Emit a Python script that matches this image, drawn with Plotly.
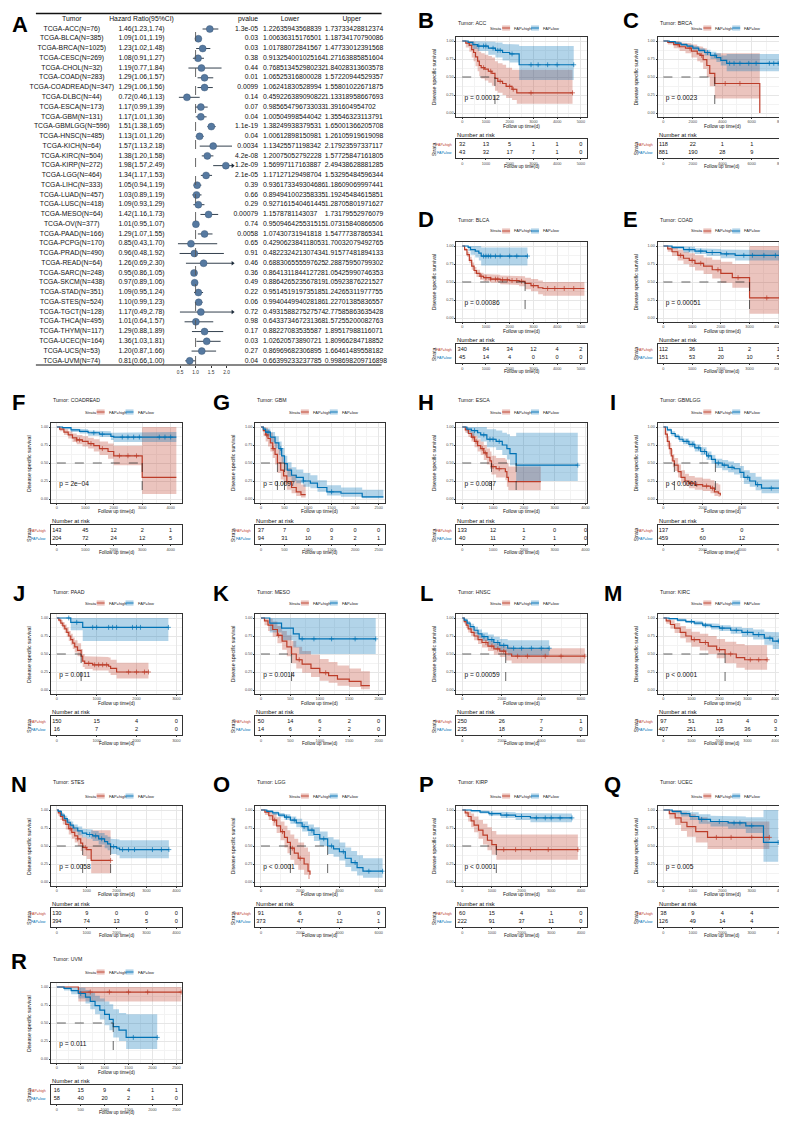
import plotly.graph_objects as go

W, H = 787, 1125
FONT = "Liberation Sans, Arial, sans-serif"
RED, BLUE = "#BC3C29", "#0072B5"
RED_F, BLUE_F = "rgba(188,60,41,0.30)", "rgba(0,114,181,0.30)"

# ---------------- Panel A : forest table data ----------------
tumors = ["ACC", "BLCA", "BRCA", "CESC", "CHOL", "COAD", "COADREAD", "DLBC", "ESCA", "GBM",
          "GBMLGG", "HNSC", "KICH", "KIRC", "KIRP", "LGG", "LIHC", "LUAD", "LUSC", "MESO",
          "OV", "PAAD", "PCPG", "PRAD", "READ", "SARC", "SKCM", "STAD", "STES", "TGCT",
          "THCA", "THYM", "UCEC", "UCS", "UVM"]
n_cases = [76, 385, 1025, 269, 32, 283, 347, 44, 173, 131, 596, 485, 64, 504, 272, 464, 333, 457,
           418, 64, 377, 166, 170, 490, 64, 248, 438, 351, 524, 128, 495, 117, 164, 53, 74]
hr = [1.46, 1.09, 1.23, 1.08, 1.19, 1.29, 1.29, 0.72, 1.17, 1.17, 1.51, 1.13, 1.57, 1.38, 1.98,
      1.34, 1.05, 1.03, 1.09, 1.42, 1.01, 1.29, 0.85, 0.96, 1.26, 0.95, 0.97, 1.09, 1.10, 1.17,
      1.01, 1.29, 1.36, 1.20, 0.81]
hr_text = ["1.46(1.23,1.74)", "1.09(1.01,1.19)", "1.23(1.02,1.48)", "1.08(0.91,1.27)", "1.19(0.77,1.84)",
           "1.29(1.06,1.57)", "1.29(1.06,1.56)", "0.72(0.46,1.13)", "1.17(0.99,1.39)", "1.17(1.01,1.36)",
           "1.51(1.38,1.65)", "1.13(1.01,1.26)", "1.57(1.13,2.18)", "1.38(1.20,1.58)", "1.98(1.57,2.49)",
           "1.34(1.17,1.53)", "1.05(0.94,1.19)", "1.03(0.89,1.19)", "1.09(0.93,1.29)", "1.42(1.16,1.73)",
           "1.01(0.95,1.07)", "1.29(1.07,1.55)", "0.85(0.43,1.70)", "0.96(0.48,1.92)", "1.26(0.69,2.30)",
           "0.95(0.86,1.05)", "0.97(0.89,1.06)", "1.09(0.95,1.24)", "1.10(0.99,1.23)", "1.17(0.49,2.78)",
           "1.01(0.64,1.57)", "1.29(0.88,1.89)", "1.36(1.03,1.81)", "1.20(0.87,1.66)", "0.81(0.66,1.00)"]
pvalue = ["1.3e-05", "0.03", "0.03", "0.38", "0.44", "0.01", "0.0099", "0.14", "0.07", "0.04",
          "1.1e-19", "0.04", "0.0034", "4.2e-08", "1.2e-09", "2.1e-05", "0.39", "0.66", "0.29", "0.00079",
          "0.74", "0.0058", "0.65", "0.91", "0.46", "0.36", "0.49", "0.22", "0.06", "0.72",
          "0.98", "0.17", "0.03", "0.27", "0.04"]
lower = ["1.22635943568839", "1.00636315176501", "1.01788072841567", "0.913254001025164", "0.768513452980232",
         "1.06525316800028", "1.06241830528994", "0.459226389090822", "0.985654796733033", "1.00504998544042",
         "1.38249938379531", "1.00612898150981", "1.13425571198342", "1.20075052792228", "1.56997117163887",
         "1.17127129498704", "0.936173349304686", "0.894941002358335", "0.927161540461445", "1.1578781143037",
         "0.950946425531515", "1.07430731941818", "0.429062384118053", "0.482232421307434", "0.688306555597625",
         "0.864131184412728", "0.886426523567819", "0.951451919735185", "0.994044994028186", "0.493158827527574",
         "0.643373467231368", "0.88227083535587", "1.02620573890721", "0.86969682306895", "0.66399233237785"]
upper = ["1.73733428812374", "1.18734170790086", "1.47733012391568", "1.27163885851604", "1.84028313603578",
         "1.57220944529357", "1.55801022671875", "1.13318958667693", "1.391604954702", "1.35546323113791",
         "1.65001366205708", "1.26105919619098", "2.17923597337117", "1.57725847161805", "2.49438628881285",
         "1.53295484596344", "1.18609069997441", "1.19245484615851", "1.28705801971627", "1.73179552976079",
         "1.07315840866506", "1.54777387865341", "1.70032079492765", "1.91577481894133", "2.28875950799302",
         "1.05425990746353", "1.05923876221527", "1.24265311977755", "1.22701385836557", "2.77585863635428",
         "1.57255200082763", "1.89517988116071", "1.80966284718852", "1.66461489558182", "0.998698209716898"]
forest_ticks = [0.5, 1.0, 1.5, 2.0]
table_headers = ["Tumor", "Hazard Ratio(95%CI)", "pvalue", "Lower", "Upper"]

# ---------------- KM data: (time, survival, lower, upper) ----------------
ACC_high = [(0,1,1,1),(150,.97,.91,1),(300,.94,.85,1),(400,.88,.77,1),(480,.84,.72,.98),(560,.78,.65,.94),
            (650,.72,.58,.9),(720,.66,.51,.85),(800,.63,.48,.83),(950,.61,.45,.81),(1100,.58,.42,.79),
            (1250,.55,.38,.77),(1380,.48,.31,.72),(1500,.44,.28,.69),(1700,.41,.25,.67),(1850,.37,.21,.63),
            (2100,.33,.18,.6),(2300,.28,.13,.6),(4650,.28,.13,.6)]
ACC_low = [(0,1,1,1),(250,.98,.93,1),(450,.95,.89,1),(650,.93,.86,1),(1100,.9,.81,.99),(1400,.87,.77,.98),
           (1700,.84,.73,.96),(2000,.82,.7,.95),(2400,.67,.46,.93),(4700,.67,.46,.93)]
ACC_high_cens = [900, 1200, 1600, 2000, 2150, 2900, 4650]
ACC_low_cens = [700, 900, 1000, 1300, 1500, 1600, 2100, 2900, 3200, 3600, 4000, 4700]

BRCA_high = [(0,1,1,1),(300,.98,.95,1),(700,.95,.9,1),(1100,.92,.86,.98),(1500,.9,.83,.97),(1900,.86,.77,.95),
             (2300,.82,.72,.93),(2500,.8,.7,.92),(2700,.74,.61,.9),(2950,.66,.5,.86),(3150,.55,.37,.8),
             (3490,.41,.2,.83),(6550,0,0,0)]
BRCA_low = [(0,1,1,1),(400,.99,.98,1),(800,.97,.96,.99),(1200,.95,.93,.97),(1600,.93,.91,.95),(2000,.9,.87,.93),
            (2400,.87,.84,.9),(2800,.84,.8,.88),(3200,.8,.75,.85),(3600,.77,.71,.83),(3900,.73,.66,.8),
            (4300,.69,.58,.82),(8300,.69,.58,.82)]
BRCA_high_cens = [1000, 1800, 2600, 4200, 5200]
BRCA_low_cens = [3000, 3500, 4500, 4800, 5200, 5800, 6300, 7200, 7500, 7800, 8100]

BLCA_high = [(0,1,1,1),(100,.95,.93,.97),(200,.88,.85,.92),(300,.8,.76,.85),(400,.72,.67,.77),(500,.66,.61,.71),
             (600,.62,.57,.67),(750,.58,.53,.63),(900,.56,.51,.61),(1200,.54,.49,.6),(1600,.53,.47,.59),
             (2000,.52,.46,.58),(2400,.51,.44,.58),(2650,.48,.4,.56),(2900,.45,.37,.54),(3200,.42,.33,.52),
             (3400,.41,.31,.5),(5150,.41,.31,.5)]
BLCA_low = [(0,1,1,1),(250,.98,.93,1),(350,.95,.88,1),(550,.93,.84,1),(700,.9,.8,1),(800,.86,.73,.98),
            (2750,.86,.73,.98)]
BLCA_high_cens = [800, 1000, 1200, 1400, 1500, 1700, 1900, 2100, 2300, 2500, 3000, 3600, 3900, 4300, 4700]
BLCA_low_cens = [900, 1000, 1100, 1200, 1400, 1600, 2000, 2300, 2750]

COAD_high = [(0,1,1,1),(150,.96,.92,1),(300,.92,.86,.98),(500,.87,.8,.95),(700,.83,.75,.92),(900,.8,.71,.9),
             (1100,.76,.66,.87),(1400,.72,.61,.84),(1700,.67,.55,.81),(2000,.62,.49,.78),(2400,.56,.42,.75),
             (3000,.28,.06,1),(4200,.28,.06,1)]
COAD_low = [(0,1,1,1),(300,.98,.96,1),(700,.95,.91,.99),(1100,.93,.89,.97),(1500,.91,.86,.96),(2000,.89,.83,.95),
            (2500,.87,.8,.94),(4200,.87,.8,.94)]
COAD_high_cens = [600, 1000, 1300, 1900, 2600, 3600]
COAD_low_cens = [900, 1300, 1700, 2200, 2800, 3100, 3500, 3900, 4200]

COADREAD_high = [(0,1,1,1),(100,.97,.94,1),(250,.93,.89,.97),(400,.89,.84,.94),(550,.85,.79,.91),(700,.82,.76,.89),
                 (900,.8,.73,.87),(1100,.77,.7,.85),(1300,.74,.66,.83),(1500,.7,.61,.8),(1800,.66,.56,.77),
                 (2000,.6,.47,.74),(3000,.3,.07,1),(4200,.3,.07,1)]
COADREAD_low = [(0,1,1,1),(200,.99,.97,1),(500,.96,.93,.98),(800,.94,.91,.97),(1100,.92,.88,.95),(1500,.9,.86,.94),
                (1900,.87,.82,.92),(2000,.86,.79,.93),(4200,.86,.79,.93)]
COADREAD_high_cens = [700, 800, 1200, 1600, 2200, 2500, 2800]
COADREAD_low_cens = [1300, 1600, 2300, 2500, 2700, 2900, 3600, 3800, 4000]

GBM_high = [(0,1,1,1),(50,.95,.88,1),(100,.89,.8,.99),(150,.84,.73,.96),(200,.78,.66,.92),(250,.7,.57,.86),
            (300,.62,.48,.79),(350,.5,.36,.69),(420,.4,.27,.59),(480,.32,.2,.51),(550,.24,.13,.43),
            (650,.16,.08,.34),(750,.1,.04,.26),(850,.06,.02,.2),(950,.06,.02,.2)]
GBM_low = [(0,1,1,1),(50,.97,.94,1),(100,.93,.88,.98),(200,.86,.79,.93),(300,.78,.7,.87),(380,.7,.61,.8),
           (440,.6,.51,.71),(500,.49,.4,.6),(560,.4,.31,.51),(650,.33,.25,.44),(750,.3,.22,.41),(900,.25,.17,.36),
           (1050,.22,.15,.33),(1200,.16,.1,.26),(1400,.1,.05,.19),(1700,.08,.03,.16),(2150,.03,.01,.13),
           (2600,.03,.01,.13)]
GBM_high_cens = [120, 260]
GBM_low_cens = [150, 420, 900, 1500]

ESCA_high = [(0,1,1,1),(100,.96,.92,1),(200,.91,.86,.97),(300,.86,.8,.93),(400,.8,.72,.88),(500,.74,.66,.83),
             (600,.7,.61,.8),(700,.64,.54,.75),(800,.58,.48,.7),(900,.53,.42,.66),(950,.45,.34,.6),
             (1100,.42,.3,.57),(1400,.38,.26,.55),(1450,.3,.17,.5),(1500,.24,.12,.45),(2550,.24,.12,.45)]
ESCA_low = [(0,1,1,1),(150,.97,.92,1),(300,.95,.88,1),(500,.92,.84,1),(600,.89,.8,1),(800,.83,.72,.97),
            (1100,.8,.68,.95),(1300,.75,.61,.92),(1450,.7,.55,.9),(1550,.63,.47,.87),(1750,.47,.25,.92),
            (3750,.47,.25,.92)]
ESCA_high_cens = [350, 450, 650, 750, 1000, 1200]
ESCA_low_cens = [400, 700, 900, 1000, 1200, 3750]

GBMLGG_high = [(0,1,1,1),(100,.9,.85,.95),(200,.8,.73,.87),(300,.7,.62,.78),(400,.6,.52,.69),(480,.53,.44,.62),
               (560,.47,.39,.57),(750,.38,.3,.48),(900,.3,.22,.4),(1100,.25,.18,.35),(1300,.22,.15,.32),
               (1600,.2,.13,.3),(2000,.18,.11,.28),(2400,.15,.08,.26),(2600,.1,.04,.22),(2800,.08,.03,.2),
               (2900,.05,.01,.18)]
GBMLGG_low = [(0,1,1,1),(200,.96,.94,.98),(400,.91,.88,.94),(600,.87,.84,.9),(800,.83,.79,.87),(1000,.8,.76,.84),
              (1300,.76,.72,.81),(1600,.71,.66,.76),(1900,.66,.61,.72),(2200,.6,.54,.66),(2450,.55,.49,.61),
              (2650,.5,.43,.56),(3000,.47,.4,.54),(3300,.44,.37,.52),(3600,.42,.34,.5),(3900,.37,.29,.46),
              (4100,.3,.21,.4),(4400,.25,.17,.36),(4700,.2,.12,.31),(5000,.15,.08,.27),(6100,.15,.08,.27)]
GBMLGG_high_cens = [1400, 1700, 2200, 2500]
GBMLGG_low_cens = [1200, 1500, 1800, 2100, 2300, 2800, 3100, 3500, 4300, 4800, 5500, 6100]

PAAD_high = [(0,1,1,1),(50,.97,.94,1),(100,.93,.89,.97),(150,.89,.84,.94),(200,.85,.79,.91),(250,.8,.74,.87),
             (300,.75,.68,.82),(350,.7,.63,.78),(400,.65,.57,.73),(450,.6,.52,.69),(520,.55,.47,.65),
             (610,.47,.39,.57),(650,.4,.32,.5),(700,.37,.29,.47),(900,.35,.27,.46),(1300,.33,.24,.45),
             (1350,.3,.21,.42),(1500,.25,.16,.38),(2300,.25,.16,.38)]
PAAD_low = [(0,1,1,1),(350,.94,.83,1),(650,.87,.68,1),(2800,.87,.68,1)]
PAAD_high_cens = [800, 950, 1050, 1150, 1250, 1800, 2000, 2200, 2300]
PAAD_low_cens = [300, 500, 900, 1000, 1300, 1400, 1500, 1900, 2000, 2100, 2800]

MESO_high = [(0,1,1,1),(60,.96,.9,1),(120,.9,.82,.99),(200,.84,.74,.95),(280,.76,.65,.89),(360,.68,.56,.82),
             (440,.6,.47,.76),(520,.5,.37,.68),(600,.42,.3,.6),(700,.36,.24,.54),(850,.3,.18,.49),
             (1000,.24,.13,.43),(1150,.2,.1,.39),(1300,.15,.06,.34),(1500,.12,.04,.3),(1700,.06,.01,.26),
             (1850,.06,.01,.26)]
MESO_low = [(0,1,1,1),(150,.93,.8,1),(350,.86,.69,1),(550,.78,.59,1),(650,.71,.5,1),(1950,.71,.5,1)]
MESO_high_cens = [300, 650, 1100]
MESO_low_cens = [700, 900, 1200, 1600, 1950]

HNSC_high = [(0,1,1,1),(100,.95,.92,.98),(200,.9,.86,.94),(300,.85,.8,.89),(450,.8,.75,.85),(600,.75,.69,.81),
             (800,.7,.64,.76),(1000,.66,.59,.72),(1300,.61,.54,.68),(1600,.57,.49,.65),(1900,.54,.46,.62),
             (2200,.5,.41,.6),(2500,.47,.37,.58),(6200,.47,.37,.58)]
HNSC_low = [(0,1,1,1),(100,.97,.95,.99),(250,.93,.9,.96),(400,.88,.84,.92),(600,.83,.78,.88),(800,.78,.72,.84),
            (1000,.74,.68,.8),(1300,.7,.63,.77),(1600,.66,.58,.74),(1900,.62,.53,.71),(2300,.58,.48,.69),
            (4400,.58,.48,.69)]
HNSC_high_cens = [1200, 1500, 1800, 2100, 2800, 3300, 4200, 5000, 6200]
HNSC_low_cens = [1100, 1500, 1800, 2100, 2600, 3000, 3500, 4000, 4400]

KIRC_high = [(0,1,1,1),(100,.96,.92,1),(250,.91,.85,.97),(400,.86,.79,.93),(600,.8,.72,.89),(800,.75,.66,.85),
             (1000,.7,.6,.81),(1300,.66,.55,.78),(1600,.61,.5,.75),(1900,.56,.44,.71),(2200,.5,.37,.67),
             (2600,.45,.31,.64),(2900,.42,.28,.62),(3700,.42,.28,.62)]
KIRC_low = [(0,1,1,1),(200,.99,.98,1),(500,.97,.95,.99),(800,.95,.93,.97),(1100,.93,.9,.96),(1400,.9,.87,.93),
            (1700,.88,.84,.92),(2000,.86,.82,.9),(2400,.83,.78,.88),(2800,.8,.74,.86),(3200,.77,.7,.84),
            (3600,.72,.63,.81),(3900,.68,.57,.8),(4300,.68,.57,.8)]
KIRC_high_cens = [1100, 1500, 2000, 2400, 3100, 3400, 3700]
KIRC_low_cens = [1000, 1500, 2100, 2600, 3000, 3400, 3800, 4100, 4300]

STES_high = [(0,1,1,1),(50,.96,.92,1),(120,.91,.86,.97),(200,.86,.8,.92),(300,.8,.73,.87),(400,.74,.66,.82),
             (500,.69,.6,.78),(600,.64,.55,.74),(700,.6,.5,.71),(800,.54,.43,.66),(865,.48,.36,.62),
             (1000,.45,.32,.6),(1150,.3,.12,.72),(1800,.3,.12,.72)]
STES_low = [(0,1,1,1),(50,.98,.96,1),(150,.93,.9,.96),(250,.88,.84,.92),(350,.83,.79,.87),(450,.79,.74,.84),
            (550,.75,.7,.8),(700,.71,.65,.77),(850,.68,.62,.74),(1000,.66,.6,.73),(1200,.64,.57,.71),
            (1400,.6,.52,.68),(1600,.56,.47,.65),(1700,.53,.44,.63),(1800,.49,.39,.6),(2000,.47,.37,.59),
            (2100,.45,.33,.58),(3750,.45,.33,.58)]
STES_high_cens = [450, 700, 950, 1800]
STES_low_cens = [1100, 1300, 1500, 1900, 2200, 2400, 2600, 3200, 3500, 3750]

LGG_high = [(0,1,1,1),(200,.97,.93,1),(400,.92,.86,.98),(600,.86,.78,.95),(800,.78,.68,.9),(1000,.7,.58,.84),
            (1200,.62,.48,.78),(1350,.55,.4,.72),(1500,.47,.31,.66),(1700,.4,.24,.6),(1900,.33,.17,.55),
            (2200,.25,.1,.48),(2400,.15,.04,.42),(2500,.1,.02,.36)]
LGG_low = [(0,1,1,1),(300,.98,.96,1),(600,.96,.93,.98),(900,.93,.9,.96),(1200,.9,.86,.94),(1500,.86,.81,.91),
           (1800,.82,.76,.88),(2100,.77,.7,.84),(2400,.72,.64,.8),(2700,.66,.57,.76),(3000,.6,.5,.7),
           (3400,.5,.39,.62),(3700,.46,.35,.59),(4000,.42,.3,.55),(4300,.33,.21,.48),(4600,.27,.15,.43),
           (4900,.2,.09,.37),(5200,.15,.06,.33),(6200,.15,.06,.33)]
LGG_high_cens = [700, 1100, 1600, 2000]
LGG_low_cens = [1300, 1700, 2200, 2600, 3200, 3600, 4200, 4800, 5500, 6200]

KIRP_high = [(0,1,1,1),(100,.96,.91,1),(200,.91,.84,.98),(300,.85,.76,.95),(400,.79,.69,.91),(550,.72,.6,.86),
             (700,.65,.52,.81),(850,.58,.44,.76),(1000,.52,.38,.71),(1150,.45,.31,.66),(3900,.45,.31,.66)]
KIRP_low = [(0,1,1,1),(300,.99,.97,1),(600,.97,.95,.99),(900,.95,.92,.98),(1300,.93,.89,.97),(1800,.91,.86,.96),
            (2300,.89,.83,.95),(3700,.89,.83,.95)]
KIRP_high_cens = [1400, 1800, 2300, 2900, 3900]
KIRP_low_cens = [1000, 1500, 2000, 2500, 2800, 3000, 3300, 3700]

UCEC_high = [(0,1,1,1),(200,.95,.88,1),(400,.89,.79,1),(600,.83,.71,.97),(800,.77,.63,.94),(1100,.7,.55,.9),
             (1500,.62,.46,.84),(3600,.62,.46,.84)]
UCEC_low = [(0,1,1,1),(300,.98,.95,1),(600,.95,.91,.99),(900,.91,.86,.97),(1200,.87,.81,.94),(1600,.84,.77,.92),
            (2200,.82,.74,.91),(2800,.78,.68,.9),(3400,.55,.28,1),(3900,.55,.28,1)]
UCEC_high_cens = [1800, 2300, 3000, 3600]
UCEC_low_cens = [1300, 1900, 2400, 2600, 3000, 3900]

UVM_high = [(0,1,1,1),(450,.93,.8,1),(2600,.93,.8,1)]
UVM_low = [(0,1,1,1),(150,.98,.95,1),(300,.95,.9,1),(450,.91,.84,.99),(600,.86,.77,.96),(700,.8,.69,.92),
           (800,.74,.62,.88),(900,.68,.55,.84),(1000,.62,.47,.8),(1100,.55,.4,.76),(1180,.45,.3,.69),
           (1300,.4,.25,.64),(1450,.3,.14,.62),(2100,.3,.14,.62)]
UVM_high_cens = [700, 1100, 1500, 1900, 2600]
UVM_low_cens = [500, 1600, 2100]

# number at risk (FAP=high, FAP=low) at each x tick
risk_ACC = ([32, 13, 5, 1, 1, 0], [43, 32, 17, 7, 1, 0])
risk_BRCA = ([118, 22, 1, 1, 0], [881, 190, 28, 9, 3])
risk_BLCA = ([340, 84, 34, 12, 4, 2], [45, 14, 4, 0, 0, 0])
risk_COAD = ([112, 36, 11, 2, 1], [151, 53, 20, 10, 5])
risk_COADREAD = ([143, 45, 12, 2, 1], [204, 72, 24, 12, 5])
risk_GBM = ([37, 7, 0, 0, 0, 0], [94, 31, 10, 3, 2, 1])
risk_ESCA = ([133, 12, 1, 0, 0], [40, 11, 2, 1, 0])
risk_GBMLGG = ([137, 5, 0, 0], [459, 60, 12, 1])
risk_PAAD = ([150, 15, 4, 0], [16, 7, 2, 0])
risk_MESO = ([50, 14, 6, 2, 0], [14, 6, 2, 2, 0])
risk_HNSC = ([250, 26, 7, 1], [235, 18, 2, 0])
risk_KIRC = ([97, 51, 13, 4, 0], [407, 251, 105, 36, 3])
risk_STES = ([130, 9, 0, 0, 0], [394, 74, 13, 5, 0])
risk_LGG = ([91, 6, 0, 0], [373, 47, 12, 1])
risk_KIRP = ([60, 15, 4, 1, 0], [222, 91, 37, 11, 0])
risk_UCEC = ([38, 9, 4, 4, 0], [126, 49, 14, 4, 0])
risk_UVM = ([16, 15, 9, 4, 1, 1], [58, 40, 20, 2, 1, 0])

# median survival times drawn with dashed lines
med_ACC = [1380]
med_BRCA = [3490]
med_BLCA = [2650]
med_COAD = [3000]
med_COADREAD = [3000]
med_GBM = [350, 500]
med_ESCA = [950, 1750]
med_GBMLGG = [560, 2650]
med_PAAD = [610]
med_MESO = [520]
med_HNSC = [2200]
med_KIRC = [2200]
med_STES = [865, 1800]
med_LGG = [1500, 3400]
med_KIRP = [1150]
med_UCEC = []
med_UVM = [1180]

# ---------------- layout helpers ----------------
def px(x):
    return x / W


def py(y):
    return 1 - y / H


fig = go.Figure()
annotations = []
shapes = []
layout_axes = {}

# ---------------- Panel A ----------------
ROW0, ROWH = 21.0, 9.76
y_top, y_bot = 3.0, 357.0
fx0, fx1 = 169.7, 225.5
frange = [0.4, 2.2]
n_rows = len(tumors)
rows = list(range(n_rows))

layout_axes["xaxis"] = dict(domain=[px(fx0), px(fx1)], range=frange, anchor="y",
                            tickmode="array", tickvals=forest_ticks,
                            ticktext=["%.1f" % v for v in forest_ticks],
                            tickfont=dict(family=FONT, size=4.8, color="#333"), ticks="outside", ticklen=2,
                            tickwidth=0.6, tickcolor="#333", showgrid=False, zeroline=False,
                            showline=False)
layout_axes["yaxis"] = dict(domain=[py(y_bot), py(y_top)],
                            range=[(y_bot - ROW0) / ROWH, (y_top - ROW0) / ROWH],
                            visible=False, anchor="x")
layout_axes["xaxis2"] = dict(domain=[0, 1], range=[0, W], visible=False, anchor="y")

lo_f = [float(v) for v in lower]
hi_f = [float(v) for v in upper]
for i in rows:
    a = max(lo_f[i], frange[0])
    b = min(hi_f[i], frange[1])
    fig.add_trace(go.Scatter(x=[a, b], y=[i, i], mode="lines", line=dict(color="#1d2b3a", width=0.9),
                             xaxis="x", yaxis="y", hoverinfo="skip", showlegend=False, cliponaxis=False))
    if hi_f[i] > frange[1]:
        fig.add_trace(go.Scatter(x=[frange[1]], y=[i], mode="markers",
                                 marker=dict(symbol="triangle-right", size=4, color="#1d2b3a"),
                                 xaxis="x", yaxis="y", hoverinfo="skip", showlegend=False, cliponaxis=False))
fig.add_trace(go.Scatter(x=hr, y=rows, mode="markers",
                         marker=dict(symbol="circle", size=7, color="#5679a0",
                                     line=dict(width=0.4, color="#34506e")),
                         xaxis="x", yaxis="y", hoverinfo="skip", showlegend=False, cliponaxis=False))

tf = dict(family=FONT, size=6.8, color="#111")
col_specs = [
    ([f"TCGA-{t}(N={n})" for t, n in zip(tumors, n_cases)], 64, "middle center"),
    (hr_text, 134, "middle center"),
    (pvalue, 251, "middle left"),
    (lower, 256, "middle right"),
    (upper, 318, "middle right"),
]
for texts, xc, pos in col_specs:
    fig.add_trace(go.Scatter(x=[xc] * n_rows, y=rows, text=texts, mode="text", textposition=pos,
                             textfont=tf, xaxis="x2", yaxis="y", hoverinfo="skip", showlegend=False,
                             cliponaxis=False))
header_x = [64, 134, 241, 283, 345]
fig.add_trace(go.Scatter(x=header_x, y=[-1] * len(header_x), text=table_headers, mode="text",
                         textposition="middle center", textfont=tf, xaxis="x2", yaxis="y",
                         hoverinfo="skip", showlegend=False, cliponaxis=False))
# table rules & reference line
shapes.append(dict(type="line", xref="paper", yref="paper", x0=px(28), x1=px(375), y0=py(5.5), y1=py(5.5),
                   line=dict(color="#111", width=1.3)))
shapes.append(dict(type="line", xref="paper", yref="paper", x0=px(28), x1=px(375), y0=py(y_bot), y1=py(y_bot),
                   line=dict(color="#111", width=1.1)))
shapes.append(dict(type="line", xref="x", yref="paper", x0=1, x1=1, y0=py(y_bot), y1=py(16),
                   line=dict(color="#555", width=0.9, dash="dash")))
annotations.append(dict(text="<b>A</b>", x=px(2), y=py(2), xref="paper", yref="paper", xanchor="left",
                        yanchor="top", showarrow=False, font=dict(family=FONT, size=22, color="#000")))

# ---------------- KM panels ----------------
cols = {1: (43, 175, 11), 2: (248, 378, 214), 3: (450, 581, 420), 4: (652, 782, 607)}
rowpos = {1: (33, 15, 20, 13), 2: (238, 212, 223, 211), 3: (419, 392, 404, 394),
          4: (610, 584, 595, 585), 5: (802, 774, 788, 776), 6: (979, 951, 964, 953)}

panels = [
    ("B", "ACC", ACC_high, ACC_low, ACC_high_cens, ACC_low_cens, 1000, 5000, risk_ACC, med_ACC, "p = 0.00012", 3, 1),
    ("C", "BRCA", BRCA_high, BRCA_low, BRCA_high_cens, BRCA_low_cens, 2000, 8000, risk_BRCA, med_BRCA, "p = 0.0023", 4, 1),
    ("D", "BLCA", BLCA_high, BLCA_low, BLCA_high_cens, BLCA_low_cens, 1000, 5000, risk_BLCA, med_BLCA, "p = 0.00086", 3, 2),
    ("E", "COAD", COAD_high, COAD_low, COAD_high_cens, COAD_low_cens, 1000, 4100, risk_COAD, med_COAD, "p = 0.00051", 4, 2),
    ("F", "COADREAD", COADREAD_high, COADREAD_low, COADREAD_high_cens, COADREAD_low_cens, 1000, 4200, risk_COADREAD, med_COADREAD, "p = 2e\u221204", 1, 3),
    ("G", "GBM", GBM_high, GBM_low, GBM_high_cens, GBM_low_cens, 500, 2500, risk_GBM, med_GBM, "p = 0.0097", 2, 3),
    ("H", "ESCA", ESCA_high, ESCA_low, ESCA_high_cens, ESCA_low_cens, 1000, 3850, risk_ESCA, med_ESCA, "p = 0.0087", 3, 3),
    ("I", "GBMLGG", GBMLGG_high, GBMLGG_low, GBMLGG_high_cens, GBMLGG_low_cens, 2000, 6000, risk_GBMLGG, med_GBMLGG, "p < 0.0001", 4, 3),
    ("J", "PAAD", PAAD_high, PAAD_low, PAAD_high_cens, PAAD_low_cens, 1000, 3000, risk_PAAD, med_PAAD, "p = 0.0011", 1, 4),
    ("K", "MESO", MESO_high, MESO_low, MESO_high_cens, MESO_low_cens, 500, 2000, risk_MESO, med_MESO, "p = 0.0014", 2, 4),
    ("L", "HNSC", HNSC_high, HNSC_low, HNSC_high_cens, HNSC_low_cens, 2000, 6000, risk_HNSC, med_HNSC, "p = 0.00059", 3, 4),
    ("M", "KIRC", KIRC_high, KIRC_low, KIRC_high_cens, KIRC_low_cens, 1000, 4200, risk_KIRC, med_KIRC, "p < 0.0001", 4, 4),
    ("N", "STES", STES_high, STES_low, STES_high_cens, STES_low_cens, 1000, 4000, risk_STES, med_STES, "p = 0.0058", 1, 5),
    ("O", "LGG", LGG_high, LGG_low, LGG_high_cens, LGG_low_cens, 2000, 6000, risk_LGG, med_LGG, "p < 0.0001", 2, 5),
    ("P", "KIRP", KIRP_high, KIRP_low, KIRP_high_cens, KIRP_low_cens, 1000, 4000, risk_KIRP, med_KIRP, "p < 0.0001", 3, 5),
    ("Q", "UCEC", UCEC_high, UCEC_low, UCEC_high_cens, UCEC_low_cens, 1000, 4000, risk_UCEC, med_UCEC, "p = 0.005", 4, 5),
    ("R", "UVM", UVM_high, UVM_low, UVM_high_cens, UVM_low_cens, 500, 2500, risk_UVM, med_UVM, "p = 0.011", 1, 6),
]


def step_xy(t, v):
    xs, ys = [], []
    for i in range(len(t)):
        if i > 0:
            xs.append(t[i]); ys.append(v[i - 1])
        xs.append(t[i]); ys.append(v[i])
    return xs, ys


def surv_at(curve, c):
    s = curve[0][1]
    for row in curve:
        if row[0] <= c:
            s = row[1]
        else:
            break
    return s


def ann(text, x, y, size, color="#000", xanchor="center", angle=0, bold=False):
    annotations.append(dict(text=("<b>%s</b>" % text) if bold else text, x=px(x), y=py(y),
                            xref="paper", yref="paper", showarrow=False, xanchor=xanchor,
                            yanchor="middle", textangle=angle,
                            font=dict(family=FONT, size=size, color=color)))


AX = dict(color="#333", width=0.5)
for k, (letter, name, hi, lo, hic, loc, step, D, risk, meds, ptxt, c, r) in enumerate(panels):
    L, R, lx = cols[c]
    if c == 4 and r <= 2:
        lx = 625
    Y1, ty, ly, lyy = rowpos[r]
    a, b = 3 + 2 * k, 4 + 2 * k
    xa, ya, xb, yb = "x%d" % a, "y%d" % a, "x%d" % b, "y%d" % b
    xr = [-0.05 * D, 1.05 * D]

    common = dict(showlegend=False, hoverinfo="skip", xaxis=xa, yaxis=ya)
    for curve, fc in ((hi, RED_F), (lo, BLUE_F)):
        t = [q[0] for q in curve]
        ux, uy = step_xy(t, [q[3] for q in curve])
        lx_, ly_ = step_xy(t, [q[2] for q in curve])
        fig.add_trace(go.Scatter(x=ux + lx_[::-1], y=uy + ly_[::-1], fill="toself", fillcolor=fc,
                                 mode="lines", line=dict(width=0), **common))
    for curve, cens, lc in ((hi, hic, RED), (lo, loc, BLUE)):
        fig.add_trace(go.Scatter(x=[q[0] for q in curve], y=[q[1] for q in curve], mode="lines",
                                 line=dict(color=lc, width=1.2, shape="hv"), **common))
        fig.add_trace(go.Scatter(x=cens, y=[surv_at(curve, v) for v in cens], mode="markers",
                                 marker=dict(symbol="cross-thin", size=3.5, line=dict(color=lc, width=0.7)),
                                 **common))
    if meds:
        fig.add_trace(go.Scatter(x=[0, max(meds)], y=[0.5, 0.5], mode="lines",
                                 line=dict(color="#222", width=0.7, dash="dash"), **common))
        for m in meds:
            fig.add_trace(go.Scatter(x=[m, m], y=[0.5, 0], mode="lines",
                                     line=dict(color="#222", width=0.7, dash="dash"), **common))
    fig.add_trace(go.Scatter(x=[0.02 * D], y=[0.21], text=[ptxt], mode="text", textposition="middle right",
                             textfont=dict(family=FONT, size=6.6, color="#111"), cliponaxis=False, **common))

    # risk table numbers
    ticks = list(range(0, int(1.05 * D) + 1, step))
    for vals, yy in ((risk[0], 1), (risk[1], 0)):
        fig.add_trace(go.Scatter(x=ticks[:len(vals)], y=[yy] * len(vals), text=[str(v) for v in vals],
                                 mode="text", textposition="middle center",
                                 textfont=dict(family=FONT, size=5.6, color="#111"),
                                 showlegend=False, hoverinfo="skip", xaxis=xb, yaxis=yb, cliponaxis=False))

    xcommon = dict(range=xr, tickmode="linear", tick0=0, dtick=step, tickfont=dict(family=FONT, size=3.8, color="#4d4d4d"),
                   ticks="outside", ticklen=1.2, tickwidth=0.4, tickcolor="#333", zeroline=False,
                   showline=True, mirror=True, linecolor=AX["color"], linewidth=AX["width"])
    layout_axes["xaxis%d" % a] = dict(domain=[px(L), px(R)], anchor=ya, showgrid=True, gridcolor="#e6e6e6",
                                      gridwidth=0.5, minor=dict(dtick=step / 2, tick0=0, showgrid=True,
                                                                gridcolor="#f3f3f3", gridwidth=0.4),
                                      **xcommon)
    layout_axes["yaxis%d" % a] = dict(domain=[py(Y1 + 75.6), py(Y1 - 3.6)], anchor=xa, range=[-0.05, 1.05],
                                      tickmode="linear", tick0=0, dtick=0.25, tickformat=".2f",
                                      tickfont=dict(family=FONT, size=3.8, color="#4d4d4d"), ticks="outside",
                                      ticklen=1.2, tickwidth=0.4, tickcolor="#333", showgrid=True,
                                      gridcolor="#e6e6e6", gridwidth=0.5,
                                      minor=dict(dtick=0.125, tick0=0, showgrid=True, gridcolor="#f3f3f3",
                                                 gridwidth=0.4),
                                      zeroline=False, showline=True, mirror=True, linecolor=AX["color"],
                                      linewidth=AX["width"])
    layout_axes["xaxis%d" % b] = dict(domain=[px(L), px(R)], anchor=yb, showgrid=False, **xcommon)
    layout_axes["yaxis%d" % b] = dict(domain=[py(Y1 + 117), py(Y1 + 98)], anchor=xb, range=[-0.625, 1.75],
                                      showticklabels=False, ticks="", showgrid=False, zeroline=False,
                                      showline=True, mirror=True, linecolor=AX["color"], linewidth=AX["width"])

    # texts
    ann(letter, lx, lyy, 22, bold=True)
    ann("Tumor: %s" % name, L, ty, 5.2, "#222", xanchor="left")
    ann("Strata", L + 32, ly, 4.2, "#222", xanchor="left")
    ann("FAP=high", L + 56, ly, 4.0, "#222", xanchor="left")
    ann("FAP=low", L + 85, ly, 4.0, "#222", xanchor="left")
    for kx, fc, lc in ((L + 46, RED_F, RED), (L + 75, BLUE_F, BLUE)):
        shapes.append(dict(type="rect", xref="paper", yref="paper", x0=px(kx), x1=px(kx + 8),
                           y0=py(ly + 2.6), y1=py(ly - 2.6), fillcolor=fc, line=dict(width=0)))
        shapes.append(dict(type="line", xref="paper", yref="paper", x0=px(kx), x1=px(kx + 8),
                           y0=py(ly), y1=py(ly), line=dict(color=lc, width=0.9)))
    ann("Disease specific survival", L - 22, Y1 + 36, 5.2, "#111", angle=-90)
    ann("Follow up time(d)", (L + R) / 2, Y1 + 85, 4.8, "#111")
    ann("Number at risk", L - 1, Y1 + 94, 5.8, "#111", xanchor="left")
    ann("Strata", L - 22, Y1 + 108, 5.2, "#111", angle=-90)
    ann("FAP=high", L - 2.5, Y1 + 104, 3.6, RED, xanchor="right")
    ann("FAP=low", L - 2.5, Y1 + 112, 3.6, BLUE, xanchor="right")
    ann("Follow up time(d)", (L + R) / 2, Y1 + 125, 4.6, "#111")

fig.update_layout(width=W, height=H, margin=dict(l=0, r=0, t=0, b=0), paper_bgcolor="white",
                  plot_bgcolor="rgba(0,0,0,0)", showlegend=False, font=dict(family=FONT),
                  annotations=annotations, shapes=shapes, **layout_axes)
fig.write_html("out.html")
